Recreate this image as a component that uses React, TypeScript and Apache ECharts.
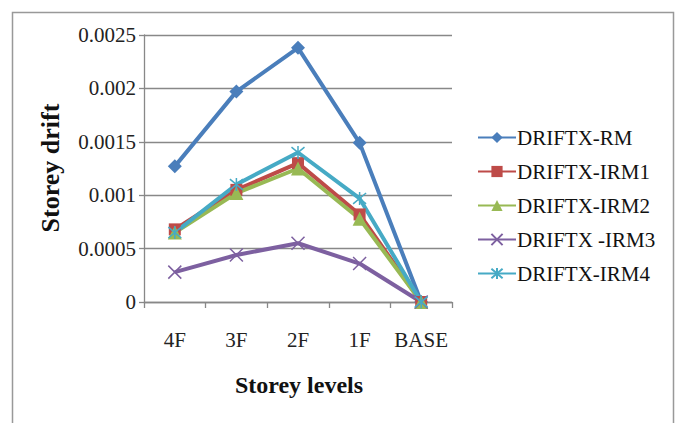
import React, { useEffect, useRef } from "react";
import * as echarts from "echarts";

const categories = ["4F", "3F", "2F", "1F", "BASE"];
const seriesNames = ["DRIFTX-RM", "DRIFTX-IRM1", "DRIFTX-IRM2", "DRIFTX -IRM3", "DRIFTX-IRM4"];
const driftRM = [0.00127, 0.00197, 0.00238, 0.00149, 0];
const driftIRM1 = [0.00068, 0.00105, 0.0013, 0.00082, 0];
const driftIRM2 = [0.00065, 0.00102, 0.00125, 0.00078, 0];
const driftIRM3 = [0.00028, 0.00044, 0.00055, 0.00036, 0];
const driftIRM4 = [0.00065, 0.0011, 0.0014, 0.00097, 0];
const yTicks = [0, 0.0005, 0.001, 0.0015, 0.002, 0.0025];

const colors = ["#4A7EBB", "#BE4B48", "#98B954", "#7D60A0", "#46AAC5"];
const symbols = [
  "diamond",
  "rect",
  "triangle",
  "path://M0,0L10,10M10,0L0,10",
  "path://M0,0L10,10M10,0L0,10M5,-1L5,11",
];
const sizes = [14, 12, 14, 13, 13];

export default function App() {
  const ref = useRef<HTMLDivElement>(null);
  useEffect(() => {
    if (!ref.current) return;
    const chart = echarts.init(ref.current, undefined, { renderer: "svg" });
    const data = [driftRM, driftIRM1, driftIRM2, driftIRM3, driftIRM4];
    const fam = "Liberation Serif";
    chart.setOption({
      animation: false,
      backgroundColor: "#fff",
      textStyle: { fontFamily: fam },
      grid: { left: 144, right: 226, top: 35, bottom: 121 },
      xAxis: {
        type: "category",
        data: categories,
        boundaryGap: true,
        axisLine: { lineStyle: { color: "#888", width: 1.3 } },
        axisTick: { show: true, length: 6, lineStyle: { color: "#888", width: 1.3 } },
        axisLabel: { color: "#222", fontFamily: fam, fontSize: 21, margin: 27, interval: 0 },
      },
      yAxis: {
        type: "value",
        min: 0,
        max: 0.0025,
        interval: 0.0005,
        axisLine: { show: true, lineStyle: { color: "#888", width: 1.3 } },
        axisTick: { show: true, length: 5, lineStyle: { color: "#888", width: 1.3 } },
        splitLine: { show: true, lineStyle: { color: "#888", width: 1.3 } },
        axisLabel: {
          color: "#222",
          fontFamily: fam,
          fontSize: 21,
          margin: 8,
          formatter: (v: number) => {
            const t = yTicks.find((x) => Math.abs(x - v) < 1e-9);
            return String(t !== undefined ? t : v);
          },
        },
      },
      legend: {
        orient: "vertical",
        left: 472,
        top: 122,
        itemWidth: 38,
        itemHeight: 14,
        itemGap: 13,
        textStyle: { fontFamily: fam, fontSize: 21, color: "#111", padding: [0, 0, 0, -4] },
        data: seriesNames,
      },
      graphic: [
        {
          type: "rect",
          shape: { x: 12.5, y: 12.5, width: 661, height: 430 },
          style: { fill: "none", stroke: "#999", lineWidth: 1.5 },
          silent: true,
        },
        {
          type: "text",
          x: 50,
          y: 168,
          rotation: Math.PI / 2,
          style: {
            text: "Storey drift",
            font: `bold 26px ${fam}`,
            fill: "#111",
            align: "center",
            verticalAlign: "middle",
          },
        },
        {
          type: "text",
          x: 299,
          y: 385,
          style: {
            text: "Storey levels",
            font: `bold 24px ${fam}`,
            fill: "#111",
            align: "center",
            verticalAlign: "middle",
          },
        },
      ],
      series: seriesNames.map((name, i) => ({
        name,
        type: "line",
        data: data[i],
        symbol: symbols[i],
        symbolSize: sizes[i],
        lineStyle: { color: colors[i], width: 4 },
        itemStyle: {
          color: colors[i],
          borderColor: colors[i],
          borderWidth: i >= 3 ? 1.5 : 0,
        },
      })),
    });
    return () => chart.dispose();
  }, []);
  return <div ref={ref} style={{ width: 678, height: 423, position: "absolute", left: 0, top: 0 }} />;
}
